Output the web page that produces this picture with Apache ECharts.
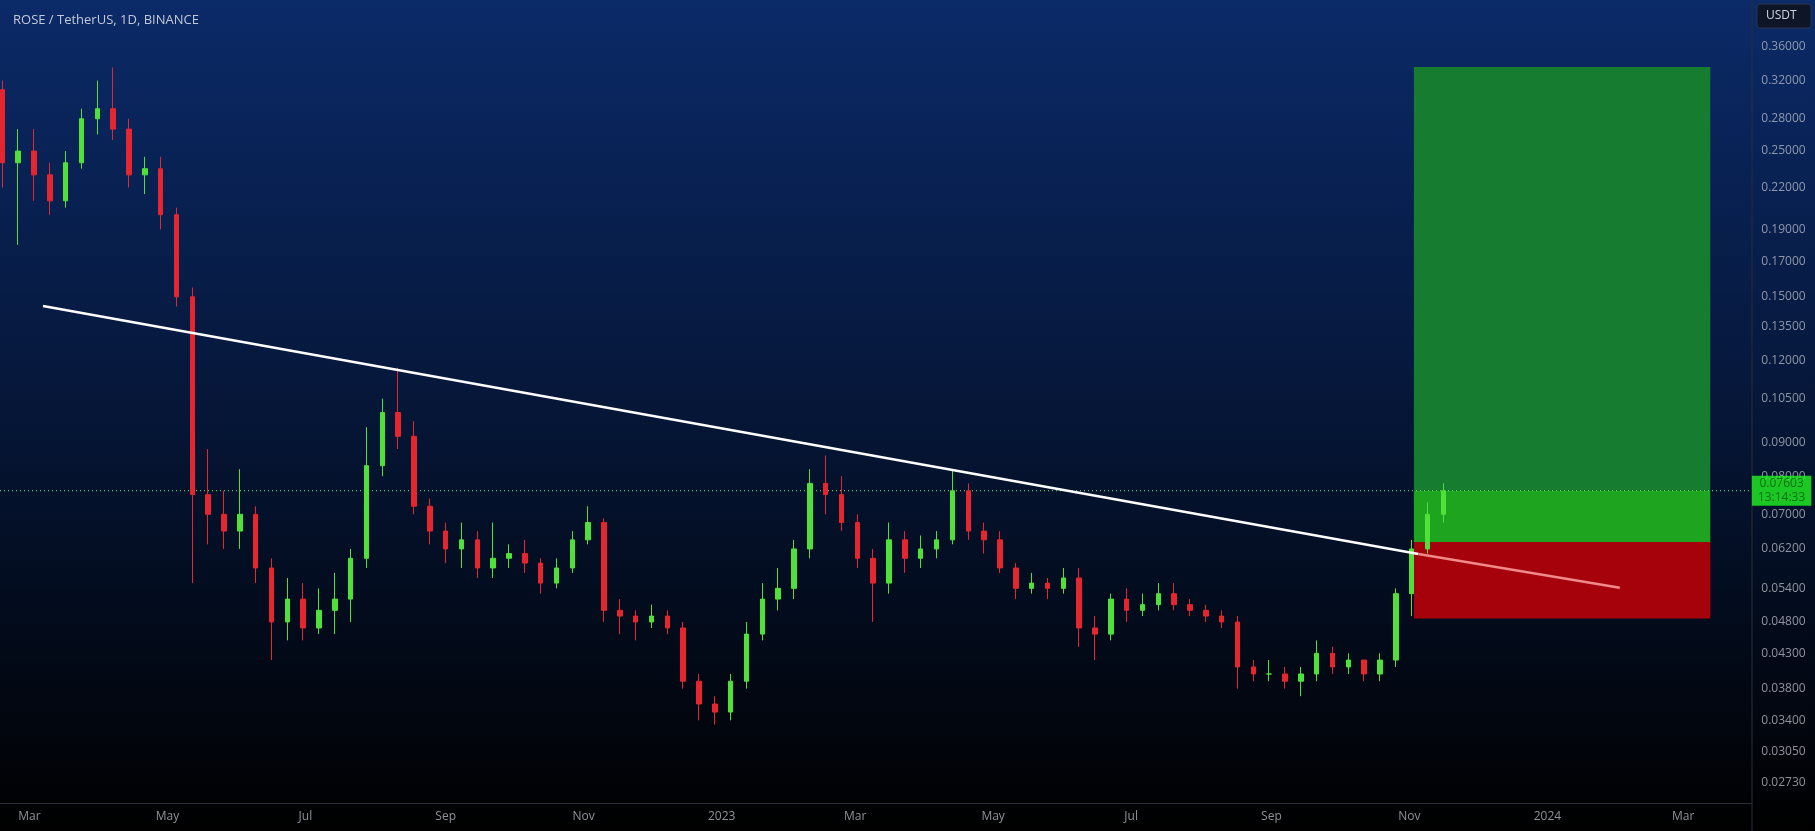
<!DOCTYPE html>
<html><head><meta charset="utf-8">
<script src="https://cdn.jsdelivr.net/npm/echarts@6/dist/echarts.min.js"></script>
<style>html,body{margin:0;padding:0;background:#000;}#c{width:1815px;height:831px;}</style>
</head><body><div id="c"></div>
<script>
const weekStarts = ['2022-02-14','2022-02-21','2022-02-28','2022-03-07','2022-03-14','2022-03-21','2022-03-28','2022-04-04','2022-04-11','2022-04-18','2022-04-25','2022-05-02','2022-05-09','2022-05-16','2022-05-23','2022-05-30','2022-06-06','2022-06-13','2022-06-20','2022-06-27','2022-07-04','2022-07-11','2022-07-18','2022-07-25','2022-08-01','2022-08-08','2022-08-15','2022-08-22','2022-08-29','2022-09-05','2022-09-12','2022-09-19','2022-09-26','2022-10-03','2022-10-10','2022-10-17','2022-10-24','2022-10-31','2022-11-07','2022-11-14','2022-11-21','2022-11-28','2022-12-05','2022-12-12','2022-12-19','2022-12-26','2023-01-02','2023-01-09','2023-01-16','2023-01-23','2023-01-30','2023-02-06','2023-02-13','2023-02-20','2023-02-27','2023-03-06','2023-03-13','2023-03-20','2023-03-27','2023-04-03','2023-04-10','2023-04-17','2023-04-24','2023-05-01','2023-05-08','2023-05-15','2023-05-22','2023-05-29','2023-06-05','2023-06-12','2023-06-19','2023-06-26','2023-07-03','2023-07-10','2023-07-17','2023-07-24','2023-07-31','2023-08-07','2023-08-14','2023-08-21','2023-08-28','2023-09-04','2023-09-11','2023-09-18','2023-09-25','2023-10-02','2023-10-09','2023-10-16','2023-10-23','2023-10-30','2023-11-06','2023-11-13'];
const opens  = [0.31,0.24,0.25,0.23,0.21,0.24,0.28,0.29,0.27,0.23,0.235,0.20,0.15,0.075,0.07,0.066,0.07,0.058,0.048,0.052,0.047,0.05,0.052,0.06,0.083,0.10,0.092,0.072,0.066,0.062,0.064,0.058,0.06,0.061,0.059,0.055,0.058,0.064,0.068,0.05,0.049,0.048,0.049,0.047,0.039,0.036,0.035,0.039,0.046,0.052,0.054,0.062,0.078,0.075,0.068,0.06,0.055,0.064,0.06,0.062,0.064,0.076,0.066,0.064,0.058,0.054,0.055,0.054,0.056,0.047,0.046,0.052,0.05,0.051,0.053,0.051,0.05,0.049,0.048,0.041,0.04,0.04,0.039,0.04,0.043,0.041,0.042,0.04,0.042,0.053,0.062,0.07];
const closes = [0.24,0.25,0.23,0.21,0.24,0.28,0.29,0.27,0.23,0.235,0.20,0.15,0.075,0.07,0.066,0.07,0.058,0.048,0.052,0.047,0.05,0.052,0.06,0.083,0.10,0.092,0.072,0.066,0.062,0.064,0.058,0.06,0.061,0.059,0.055,0.058,0.064,0.068,0.05,0.049,0.048,0.049,0.047,0.039,0.036,0.035,0.039,0.046,0.052,0.054,0.062,0.078,0.075,0.068,0.06,0.055,0.064,0.06,0.062,0.064,0.076,0.066,0.064,0.058,0.054,0.055,0.054,0.056,0.047,0.046,0.052,0.05,0.051,0.053,0.051,0.05,0.049,0.048,0.041,0.04,0.04,0.039,0.04,0.043,0.041,0.042,0.04,0.042,0.053,0.062,0.07,0.07603];
const lows   = [0.22,0.18,0.21,0.20,0.205,0.235,0.265,0.26,0.22,0.215,0.19,0.145,0.055,0.063,0.062,0.062,0.055,0.042,0.045,0.045,0.046,0.046,0.048,0.058,0.08,0.088,0.07,0.063,0.059,0.058,0.056,0.056,0.058,0.057,0.053,0.054,0.057,0.063,0.048,0.046,0.045,0.047,0.046,0.038,0.034,0.0335,0.034,0.038,0.045,0.05,0.052,0.06,0.07,0.066,0.058,0.048,0.053,0.057,0.058,0.06,0.063,0.064,0.061,0.057,0.052,0.053,0.052,0.053,0.044,0.042,0.045,0.048,0.049,0.05,0.05,0.049,0.048,0.047,0.038,0.039,0.039,0.038,0.037,0.039,0.04,0.04,0.039,0.039,0.041,0.049,0.061,0.068];
const highs  = [0.32,0.27,0.27,0.24,0.25,0.29,0.32,0.335,0.28,0.245,0.245,0.205,0.155,0.088,0.076,0.082,0.072,0.06,0.056,0.055,0.054,0.057,0.062,0.095,0.105,0.117,0.097,0.074,0.068,0.068,0.066,0.068,0.063,0.064,0.06,0.06,0.066,0.072,0.069,0.052,0.05,0.051,0.05,0.048,0.04,0.037,0.04,0.048,0.055,0.058,0.064,0.082,0.086,0.08,0.07,0.062,0.068,0.066,0.065,0.066,0.082,0.078,0.068,0.066,0.059,0.057,0.056,0.058,0.058,0.049,0.053,0.054,0.053,0.055,0.055,0.052,0.051,0.05,0.049,0.042,0.042,0.041,0.041,0.045,0.044,0.043,0.042,0.043,0.054,0.064,0.073,0.078];
const priceTicks = [0.36,0.32,0.28,0.25,0.22,0.19,0.17,0.15,0.135,0.12,0.105,0.09,0.08,0.07,0.062,0.054,0.048,0.043,0.038,0.034,0.0305,0.0273];
const dateTicks = ['2022-03-01','2022-05-01','2022-07-01','2022-09-01','2022-11-01','2023-01-01','2023-03-01','2023-05-01','2023-07-01','2023-09-01','2023-11-01','2024-01-01','2024-03-01'];
const dateTickLabels = ['Mar','May','Jul','Sep','Nov','2023','Mar','May','Jul','Sep','Nov','2024','Mar'];
const lastPrice = 0.07603;
const trendMain = [['2022-03-07',0.1453],['2023-11-05',0.0609]];
const trendExt = [['2023-11-05',0.0609],['2024-02-02',0.0541]];
const posStart = '2023-11-03', posEnd = '2024-03-13';
const targetPrice = 0.3356, entryPrice = 0.0635, stopPrice = 0.0486;

const yMin = 0.02545, yMax = 0.4245;
const xMin = '2022-02-16', xMax = '2024-03-31';
const DAY = 86400000;
const candleData = weekStarts.map((d,i)=>[+new Date(d)+3*DAY, opens[i], closes[i], lows[i], highs[i]]);

const chart = echarts.init(document.getElementById('c'));
chart.setOption({
  animation:false,
  backgroundColor:{type:'linear',x:0,y:0,x2:0,y2:1,colorStops:[{offset:0,color:'#0b2a68'},{offset:0.45,color:'#06183c'},{offset:1,color:'#000000'}]},
  title:{text:'ROSE / TetherUS, 1D, BINANCE',left:8,top:9,textStyle:{color:'#c3c8d6',fontSize:13,fontWeight:'normal',fontFamily:'Open Sans'}},
  graphic:[
    {type:'rect',shape:{x:1757,y:4,width:54,height:24,r:3},style:{fill:'#0d1526',stroke:'#2a3550'}},
    {type:'text',left:1766,top:10,style:{text:'USDT',fill:'#d1d4dc',font:'12px Open Sans'}},
    {type:'line',shape:{x1:1752,y1:0,x2:1752,y2:831},style:{stroke:'#2a2e39',lineWidth:1}},
    {type:'line',shape:{x1:0,y1:803.5,x2:1752,y2:803.5},style:{stroke:'#2a2e39',lineWidth:1}}
  ],
  grid:[
    {left:0,top:0,width:1751,height:803},
    {left:1752,top:0,width:63,height:803},
    {left:0,top:803,width:1751,height:28}
  ],
  xAxis:[
    {type:'time',gridIndex:0,min:xMin,max:xMax,show:false},
    {type:'value',gridIndex:1,min:0,max:1,show:false},
    {type:'time',gridIndex:2,min:xMin,max:xMax,show:false}
  ],
  yAxis:[
    {type:'log',gridIndex:0,min:yMin,max:yMax,show:false},
    {type:'log',gridIndex:1,min:yMin,max:yMax,show:false},
    {type:'value',gridIndex:2,min:0,max:1,show:false}
  ],
  series:[
    {type:'line',xAxisIndex:0,yAxisIndex:0,data:[[posStart,stopPrice],[posEnd,stopPrice]],symbol:'none',lineStyle:{opacity:0},z:1,
      markArea:{silent:true,data:[
        [{coord:[posStart,targetPrice],itemStyle:{color:'#167d30'}},{coord:[posEnd,lastPrice]}],
        [{coord:[posStart,lastPrice],itemStyle:{color:'#1ea41f'}},{coord:[posEnd,entryPrice]}],
        [{coord:[posStart,entryPrice],itemStyle:{color:'#a5020b'}},{coord:[posEnd,stopPrice]}]
      ]}},
    {type:'line',xAxisIndex:0,yAxisIndex:0,data:[[xMin,lastPrice],[xMax,lastPrice]],symbol:'none',z:2,
      lineStyle:{color:'#7cf06a',type:[1,3],width:1}},
    {type:'candlestick',xAxisIndex:0,yAxisIndex:0,data:candleData,barMaxWidth:5,z:3,
      itemStyle:{color:'#4fe03a',color0:'#e5262f',borderColor:'#4fe03a',borderColor0:'#e5262f'}},
    {type:'line',xAxisIndex:0,yAxisIndex:0,data:trendMain,symbol:'none',lineStyle:{color:'#ffffff',width:2.5},z:4},
    {type:'line',xAxisIndex:0,yAxisIndex:0,data:trendExt,symbol:'none',lineStyle:{color:'#f08a8a',width:2.5},z:4},
    {type:'scatter',xAxisIndex:1,yAxisIndex:1,symbolSize:0,data:priceTicks.map(p=>[0.5,p]),
      label:{show:true,position:'inside',formatter:p=>p.value[1].toFixed(5),color:'#b2b5be',fontSize:12,fontFamily:'Open Sans'}},
    {type:'scatter',xAxisIndex:1,yAxisIndex:1,symbolSize:0,z:10,data:[[0.47,lastPrice]],
      label:{show:true,position:'inside',formatter:()=>lastPrice.toFixed(5)+'\n13:14:33',color:'#0a5a0a',fontSize:12,lineHeight:14,backgroundColor:'#22f522',padding:[1,6,1,6],fontFamily:'Open Sans'}},
    {type:'scatter',xAxisIndex:2,yAxisIndex:2,symbolSize:0,data:dateTicks.map((d,i)=>[d,0.5,dateTickLabels[i]]),
      label:{show:true,position:'inside',formatter:p=>p.value[2],color:'#b2b5be',fontSize:12,fontFamily:'Open Sans'}}
  ]
});
</script></body></html>
